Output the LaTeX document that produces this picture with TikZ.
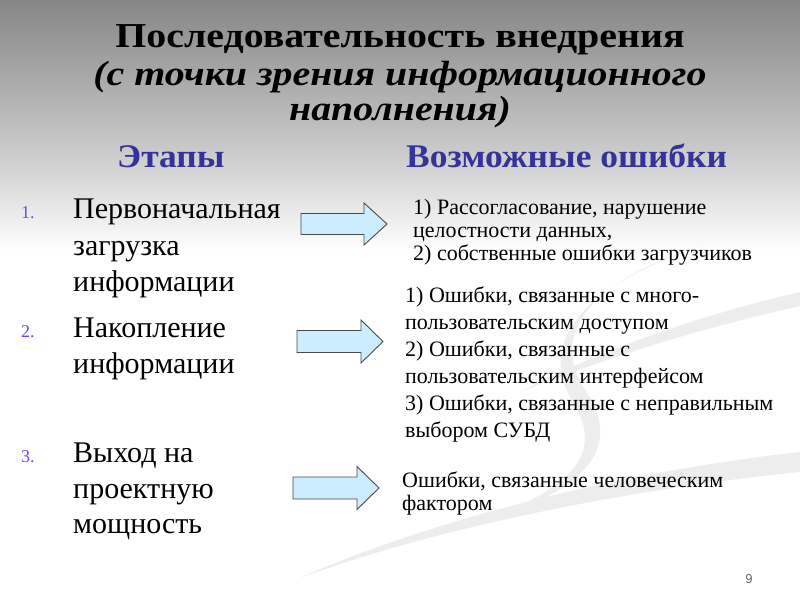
\documentclass[tikz,border=0pt]{standalone}
\usepackage{fontspec}
\setmainfont{Liberation Serif}
\setsansfont{Liberation Sans}
\definecolor{bgA}{HTML}{868686}
\definecolor{bgB}{HTML}{BCBCBC}
\definecolor{bgC}{HTML}{D4D4D4}
\definecolor{bgD}{HTML}{F6F6F6}
\definecolor{headblue}{HTML}{333399}
\definecolor{numpurple}{HTML}{7744EE}
\definecolor{arrowfill}{HTML}{CCECFF}
\definecolor{arrowline}{HTML}{4A4A4A}
\definecolor{swoosh}{HTML}{EDEDED}
\newcommand{\wideT}[1]{\scalebox{1.14}[1]{#1}}
\newcommand{\wideH}[1]{\scalebox{1.075}[1]{#1}}
\begin{document}
\pgfdeclareverticalshading{bgsh}{100bp}{color(0bp)=(white); color(54.1bp)=(white); color(55.4bp)=(bgD); color(60.8bp)=(bgC); color(65bp)=(bgB); color(75bp)=(bgA); color(100bp)=(bgA)}
\tikzset{
  titleA/.style={anchor=base, inner sep=0pt, text height=25pt, text depth=5pt, font=\fontsize{35}{38}\selectfont\bfseries},
  titleB/.style={anchor=base, inner sep=0pt, text height=25pt, text depth=5pt, font=\fontsize{35}{38}\selectfont\bfseries\itshape},
  heading/.style={anchor=base west, inner sep=0pt, text=headblue, font=\fontsize{33}{36}\selectfont\bfseries},
  stage/.style={anchor=base west, inner sep=0pt, font=\fontsize{30}{34}\selectfont},
  num/.style={anchor=base west, inner sep=0pt, text=numpurple, font=\fontsize{18}{20}\selectfont},
  err/.style={anchor=base west, inner sep=0pt, font=\fontsize{22}{25}\selectfont},
  blockarrow/.style={draw=arrowline, fill=arrowfill, line width=0.9pt, line join=miter},
  pagenum/.style={anchor=base, inner sep=0pt, text=black!60, font=\sffamily\fontsize{13}{15}\selectfont}
}
\begin{tikzpicture}[x=1pt,y=-1pt]
\useasboundingbox (0,0) rectangle (800,600);
% background
\shade[shading=bgsh] (0,0) rectangle (800,600);
% faint swooshes
\fill[swoosh] (300,578) .. controls (430,520) and (620,472) .. (800,452) -- (800,472) .. controls (620,490) and (430,530) .. (300,578) -- cycle;
\fill[swoosh] (520,392) .. controls (600,350) and (700,315) .. (800,292) -- (800,306) .. controls (700,328) and (600,360) .. (520,392) -- cycle;
\fill[swoosh] (705,245) .. controls (620,270) and (540,320) .. (585,390) .. controls (620,440) and (600,490) .. (470,525) .. controls (590,485) and (600,445) .. (572,400) .. controls (530,330) and (610,275) .. (705,245) -- cycle;
% title
\node[titleA] (t1) at (400,47.5) {\wideT{Последовательность внедрения}};
\node[titleB] (t2) at (400,85) {\wideT{(с точки зрения информационного}};
\node[titleB] (t3) at (400,120) {\wideT{наполнения)}};
% headings
\node[heading] (h1) at (117,167) {\wideH{Этапы}};
\node[heading] (h2) at (406,167) {\wideH{Возможные ошибки}};
% stages
\node[num] (n1) at (21,218) {1.};
\node[stage] (s1a) at (73,218) {Первоначальная};
\node[stage] (s1b) at (73,255) {загрузка};
\node[stage] (s1c) at (73,291) {информации};
\node[num] (n2) at (21,337) {2.};
\node[stage] (s2a) at (73,337) {Накопление};
\node[stage] (s2b) at (73,373) {информации};
\node[num] (n3) at (21,462) {3.};
\node[stage] (s3a) at (73,462) {Выход на};
\node[stage] (s3b) at (73,498) {проектную};
\node[stage] (s3c) at (73,533) {мощность};
% arrows
\draw[blockarrow] (301,213.5) -- (364,213.5) -- (364,203) -- (387,224) -- (364,245) -- (364,234.5) -- (301,234.5) -- cycle;
\draw[blockarrow] (297,330.5) -- (361,330.5) -- (361,320) -- (383,341.5) -- (361,363) -- (361,352.5) -- (297,352.5) -- cycle;
\draw[blockarrow] (293,477) -- (357,477) -- (357,466.5) -- (379,488) -- (357,509.5) -- (357,499) -- (293,499) -- cycle;
% errors
\node[err] (e1a) at (413,214) {1) Рассогласование, нарушение};
\node[err] (e1b) at (413,237) {целостности данных,};
\node[err] (e1c) at (413,260) {2) собственные ошибки загрузчиков};
\node[err] (e2a) at (405,302) {1) Ошибки, связанные с много-};
\node[err] (e2b) at (405,329) {пользовательским доступом};
\node[err] (e2c) at (405,356) {2) Ошибки, связанные с};
\node[err] (e2d) at (405,383) {пользовательским интерфейсом};
\node[err] (e2e) at (405,410) {3) Ошибки, связанные с неправильным};
\node[err] (e2f) at (405,437) {выбором СУБД};
\node[err] (e3a) at (402,487) {Ошибки, связанные человеческим};
\node[err] (e3b) at (402,510) {фактором};
% page number
\node[pagenum] (pg) at (749,583) {9};
\end{tikzpicture}
\end{document}
